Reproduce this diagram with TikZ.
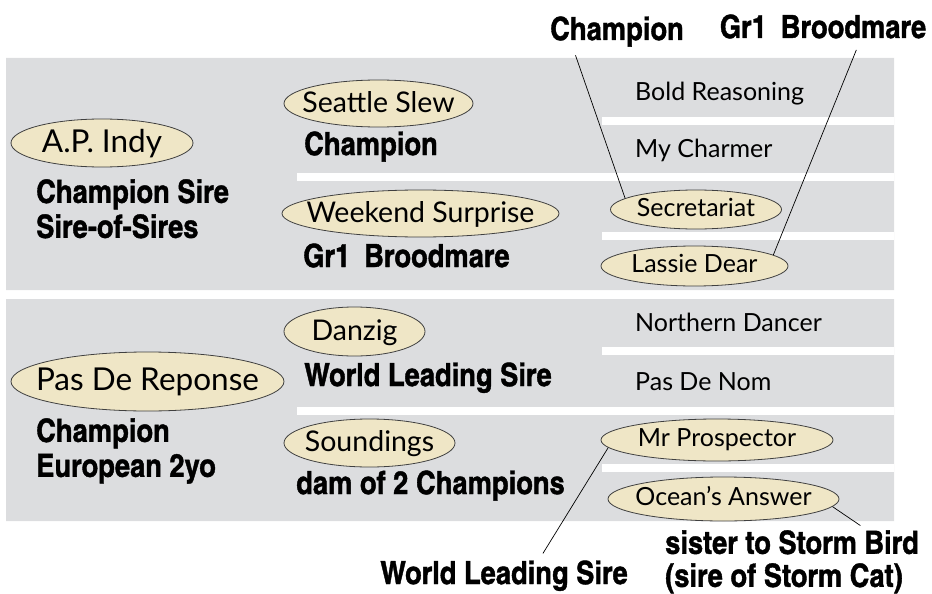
\documentclass[tikz,border=0pt]{standalone}
\usepackage{xcolor}
\usepackage{fontspec}
\setmainfont{Lato}
\newfontfamily\notefont{texgyreheroscn-bold.otf}[FakeBold=1.2,FakeStretch=1.04]
\usepackage{tikz}
\usetikzlibrary{positioning,shapes.geometric}
\definecolor{panel}{HTML}{DCDDDF}
\definecolor{cream}{HTML}{EFE6C6}
\newcommand{\nm}[1]{\makebox[0pt]{#1}}

\begin{document}
\begin{tikzpicture}[x=1pt,y=-1pt,
    horse/.style={ellipse,draw=black!75,line width=.8pt,fill=cream,inner sep=0pt,text height=18pt},
    big/.style={font=\fontsize{31.5}{34}\selectfont,text depth=0pt},
    mid/.style={font=\fontsize{28.5}{32}\selectfont,text depth=1pt},
    small/.style={font=\fontsize{25}{29}\selectfont,text depth=5pt},
    row/.style={small,anchor=base west,inner sep=0pt},
    note/.style={font=\notefont\fontsize{32}{35}\selectfont,inner sep=0pt,align=left},
    pointer/.style={draw,line width=.7pt}]
    \useasboundingbox (0,0) rectangle (932,594);
    % the two panels and their row gaps
    \fill[panel] (6,58) rectangle (894,290) (6,299) rectangle (894,521);
    \foreach \y in {117,232,347,464} \fill[white] (602,\y) rectangle +(292,8);
    \foreach \y in {173,407} \fill[white] (297,\y) rectangle +(597,8);
    % sire line
    \node[horse,big,minimum width=182pt,minimum height=48pt] (indy) at (102,143) {\nm{A.P. Indy}};
    \node[horse,mid,minimum width=189pt,minimum height=47pt] (slew) at (378.5,103.5) {\nm{Seattle Slew}};
    \node[horse,mid,minimum width=277pt,minimum height=47pt] (weekend) at (420.5,213.5) {\nm{Weekend Surprise}};
    \node[row] (boldr) at (635,100) {Bold Reasoning};
    \node[row] (charmer) at (635,157) {My Charmer};
    \node[horse,small,minimum width=171pt,minimum height=39pt] (secretariat) at (696,209.5) {\nm{Secretariat}};
    \node[horse,small,minimum width=187pt,minimum height=40pt] (lassie) at (694.5,266) {\nm{Lassie Dear}};
    % dam line
    \node[horse,big,minimum width=273pt,minimum height=59pt] (reponse) at (147.5,381.5) {\nm{Pas De Reponse}};
    \node[horse,mid,minimum width=141pt,minimum height=49pt] (danzig) at (354.5,331.5) {\nm{Danzig}};
    \node[horse,mid,minimum width=171pt,minimum height=48pt] (soundings) at (369.5,443) {\nm{Soundings}};
    \node[row] (northern) at (635,331) {Northern Dancer};
    \node[row] (pasnom) at (635,390) {Pas De Nom};
    \node[horse,small,minimum width=232pt,minimum height=42pt] (prospector) at (717,440) {\nm{Mr Prospector}};
    \node[horse,small,minimum width=231pt,minimum height=44pt] (ocean) at (723.5,499) {\nm{Ocean’s Answer}};
    % notes
    \node[note,anchor=north west] (indynote) at (36,179) {Champion Sire\\Sire-of-Sires};
    \node[note,anchor=base west] (slewnote) at (304,155) {Champion};
    \node[note,anchor=base west] (weekendnote) at (303,267) {Gr1\hspace{14pt}Broodmare};
    \node[note,anchor=north west] (reponsenote) at (36,418) {Champion\\European 2yo};
    \node[note,anchor=base west] (danzignote) at (304,386) {World Leading Sire};
    \node[note,anchor=base west] (soundingsnote) at (296,494) {dam of 2 Champions};
    \node[note,anchor=base] (champtop) at (617,40) {Champion};
    \node[note,anchor=base] (broodtop) at (823,38) {Gr1\hspace{14pt}Broodmare};
    \node[note,anchor=base] (wlsnote) at (504,584) {World Leading Sire};
    \node[note,anchor=north west] (sisternote) at (665,530) {sister to Storm Bird\\[-2pt](sire of Storm Cat)};
    \draw[pointer,shorten <=9pt] (champtop.199) -- (secretariat.171);
    \draw[pointer,shorten <=12pt] (broodtop.342) -- (lassie.8);
    \draw[pointer,shorten >=8pt] (prospector.184) -- (wlsnote.24);
    \draw[pointer,shorten >=8pt] (ocean.356) -- (sisternote.23);
\end{tikzpicture}
\end{document}
